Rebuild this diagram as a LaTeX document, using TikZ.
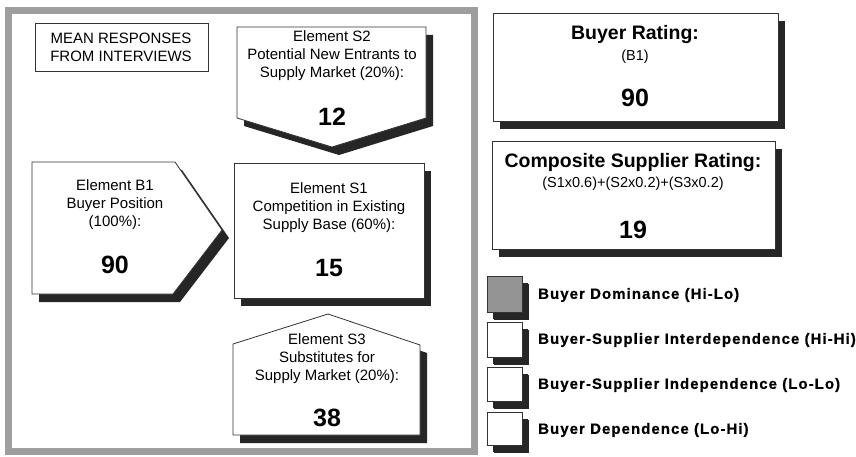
\documentclass[tikz,border=0pt]{standalone}
\usepackage{fontspec}
\setmainfont{Liberation Sans}
\usetikzlibrary{shadows}

\begin{document}
\begin{tikzpicture}[
  x=1pt, y=-1pt,
  frame/.style={draw=black!38, line width=7pt},
  plain/.style={draw=black!80, line width=0.8pt, fill=white},
  panel/.style={plain, drop shadow={shadow xshift=7pt, shadow yshift=-8pt, fill=black!85, opacity=1}},
  keybox/.style={panel, drop shadow={shadow xshift=6pt, shadow yshift=-7pt, fill=black!85, opacity=1}},
  txt/.style={align=center, font=\fontsize{15}{18}\selectfont, inner sep=0pt},
  num/.style={font=\fontsize{25}{25}\selectfont\bfseries, inner sep=0pt},
  title/.style={font=\fontsize{19.5}{22}\selectfont\bfseries, inner sep=0pt},
  keytxt/.style={anchor=west, font=\fontsize{15}{17}\selectfont\bfseries\addfontfeatures{LetterSpace=7,FakeBold=0.6}, inner sep=0pt}
]
\useasboundingbox (0,0) rectangle (856,457);

% interview panel
\draw[frame] (8,11) rectangle (474,451);
\draw[plain] (35,23) rectangle (208,71);
\node[txt] (mean) at (121,47) {MEAN RESPONSES\\FROM INTERVIEWS};

% element shapes
\draw[panel] (237,27) -- (426,27) -- (426,118) -- (332,147) -- (237,118) -- cycle;
\draw[panel] (32,162) -- (175,162) -- (222,230) -- (173,294) -- (32,294) -- cycle;
\draw[panel] (234,163) rectangle (424,298);
\draw[panel] (233,344) -- (328,314) -- (420,345) -- (420,435) -- (233,435) -- cycle;

\node[txt] (s2) at (332,56) {Element S2\\Potential New Entrants to\\Supply Market (20\%):};
\node[num] (s2num) at (332,117) {12};
\node[txt] (b1) at (115,205) {Element B1\\Buyer Position\\(100\%):};
\node[num] (b1num) at (115,265) {90};
\node[txt] (s1) at (329,208) {Element S1\\Competition in Existing\\Supply Base (60\%):};
\node[num] (s1num) at (329,268) {15};
\node[txt] (s3) at (327,359) {Element S3\\Substitutes for\\Supply Market (20\%):};
\node[num] (s3num) at (327,418) {38};

% ratings
\draw[panel] (493,13) rectangle (778,121);
\node[title] (buyer) at (635,35) {Buyer Rating:};
\node[txt, font=\fontsize{14.5}{16}\selectfont] (buyerf) at (635,57) {(B1)};
\node[num] (buyernum) at (635,98) {90};

\draw[panel] (492,141) rectangle (775,249);
\node[title] (comp) at (633,163) {Composite Supplier Rating:};
\node[txt, font=\fontsize{14.5}{16}\selectfont] (compf) at (633,184) {(S1x0.6)+(S2x0.2)+(S3x0.2)};
\node[num] (compnum) at (633,230) {19};

% key
\draw[keybox, fill=black!42] (487,276) rectangle (522,312);
\draw[keybox] (487,322) rectangle (522,357);
\draw[keybox] (487,367) rectangle (522,401);
\draw[keybox] (487,412) rectangle (522,445);
\node[keytxt] (dom) at (538,295) {Buyer Dominance (Hi-Lo)};
\node[keytxt] (inter) at (538,340) {Buyer-Supplier Interdependence (Hi-Hi)};
\node[keytxt] (indep) at (538,385) {Buyer-Supplier Independence (Lo-Lo)};
\node[keytxt] (dep) at (538,430) {Buyer Dependence (Lo-Hi)};
\end{tikzpicture}
\end{document}
